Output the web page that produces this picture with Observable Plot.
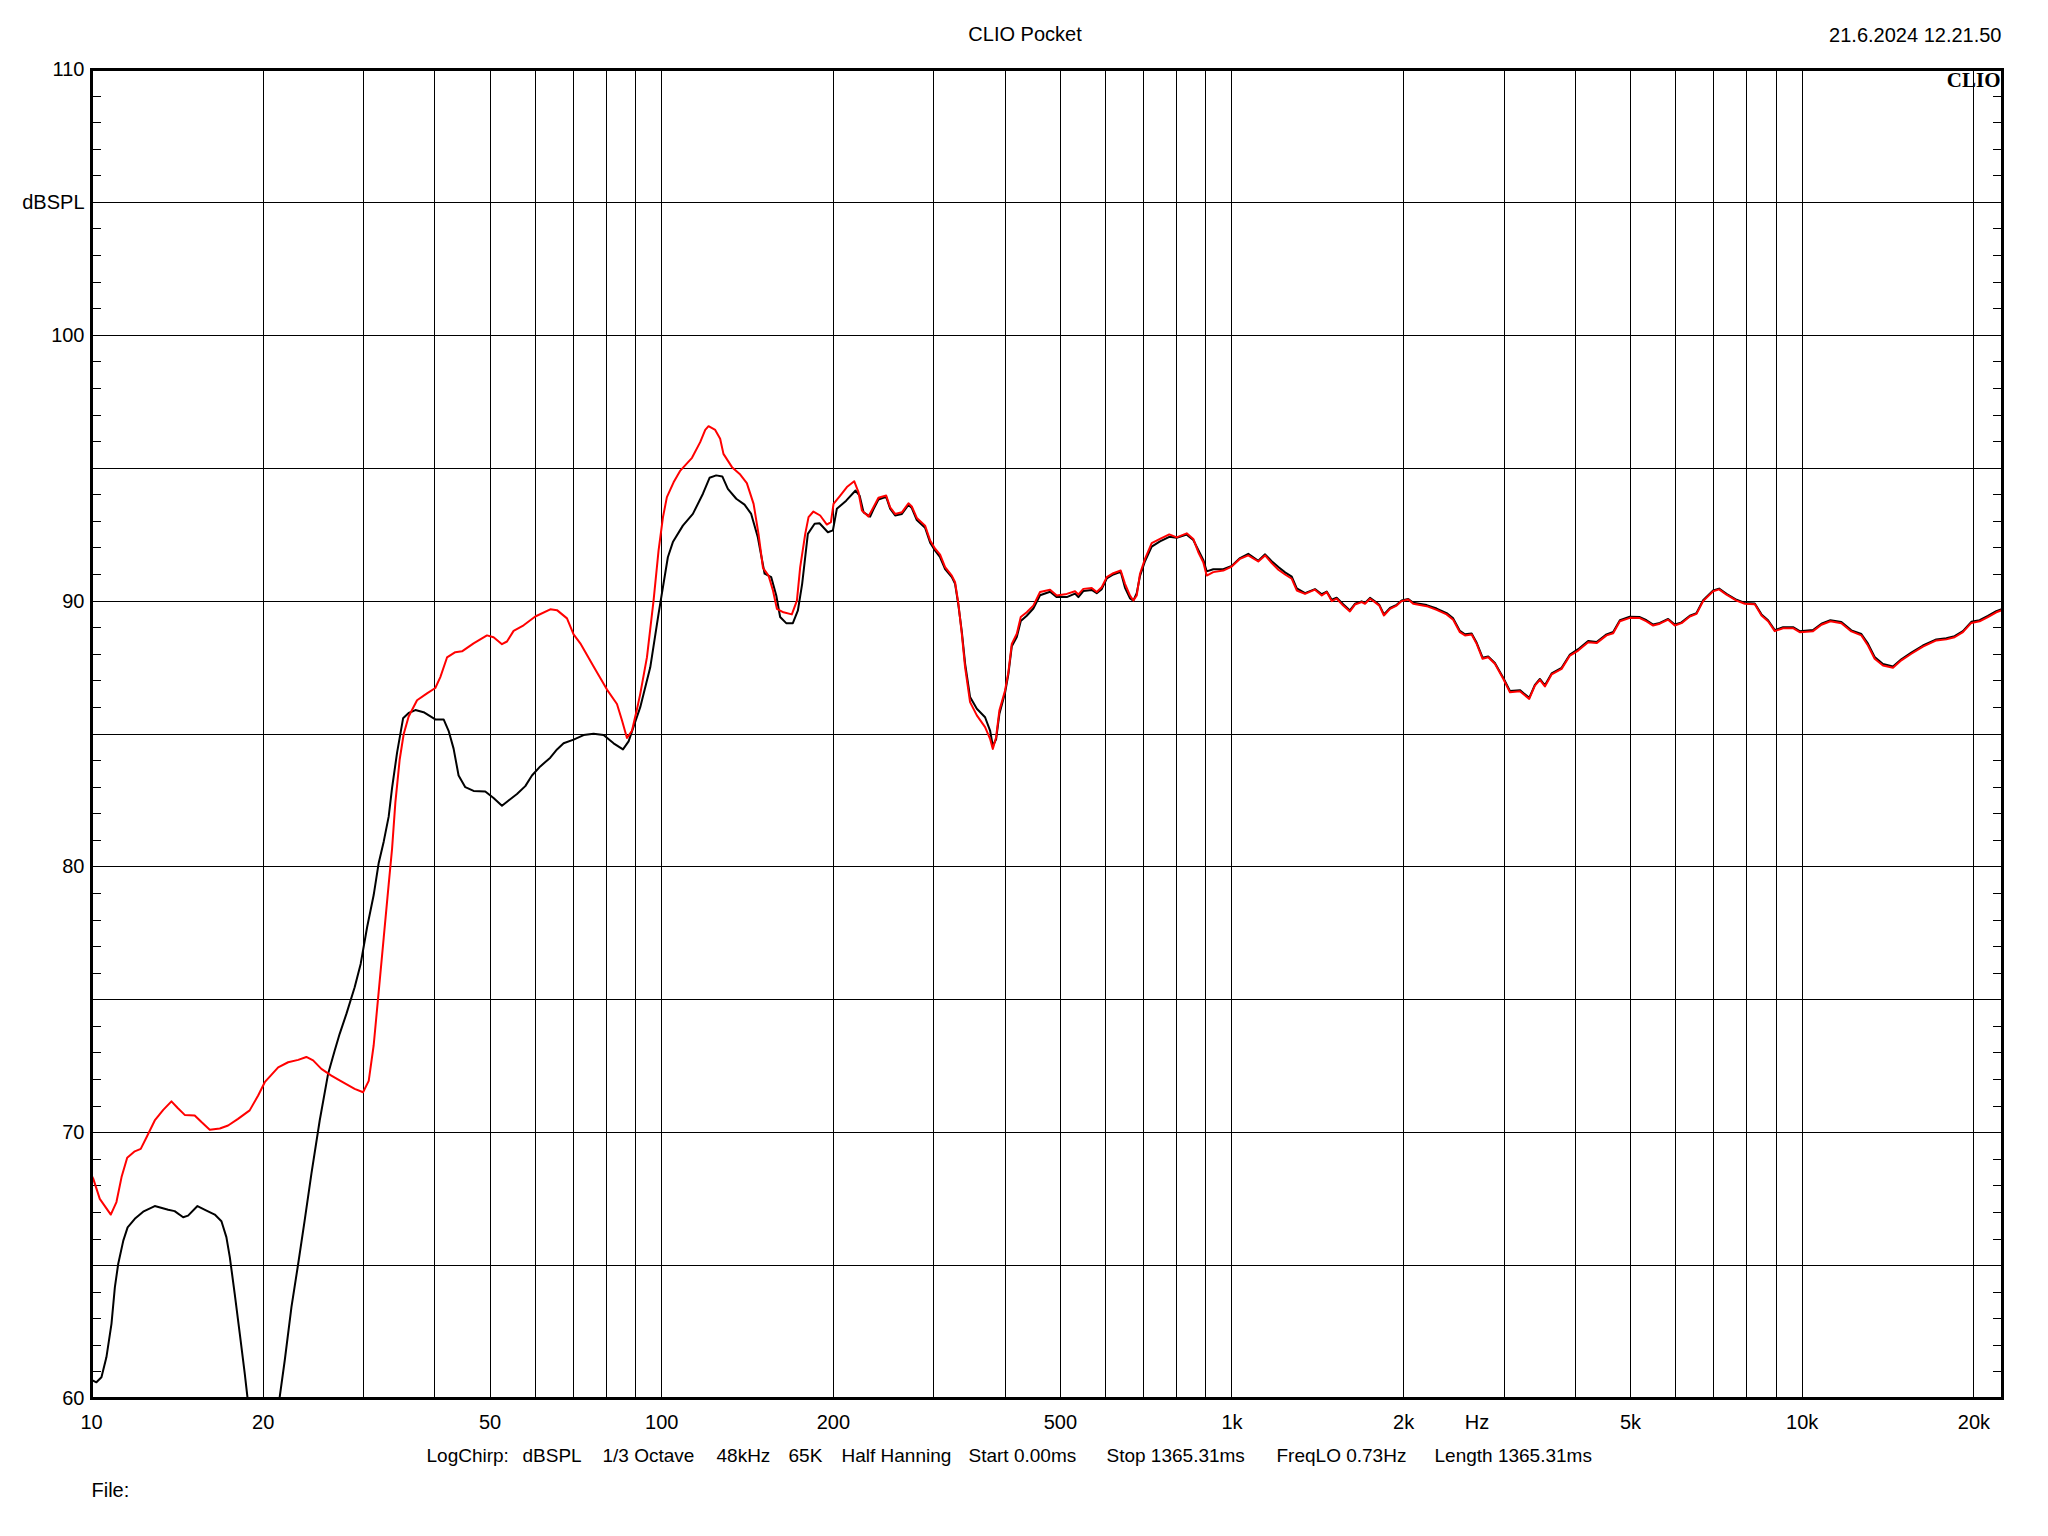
<!DOCTYPE html>
<html>
<head>
<meta charset="utf-8">
<script src="https://cdn.jsdelivr.net/npm/d3@7"></script>
<script src="https://cdn.jsdelivr.net/npm/@observablehq/plot@0.6"></script>
<style>
html, body { margin: 0; padding: 0; background: #ffffff; }
#chart { width: 2048px; height: 1536px; }
</style>
</head>
<body>
<div id="chart"></div>
<script>
// ---- data (frequency in Hz, level in dBSPL) ----
const redResponse = [
  [10.0, 68.4], [10.07, 68.27], [10.34, 67.51], [10.81, 66.92], [11.06, 67.39], [11.29, 68.33], [11.55, 69.06],
  [11.91, 69.30], [12.20, 69.39], [12.49, 69.83], [12.91, 70.46], [13.36, 70.86], [13.81, 71.18], [14.15, 70.94],
  [14.57, 70.67], [15.17, 70.65], [15.59, 70.40], [16.12, 70.11], [16.79, 70.16], [17.36, 70.27], [18.07, 70.52],
  [18.94, 70.84], [19.60, 71.40], [20.13, 71.90], [21.25, 72.46], [22.12, 72.65], [23.04, 72.74], [23.81, 72.85],
  [24.47, 72.72], [25.30, 72.40], [26.34, 72.15], [27.33, 71.95], [28.94, 71.65], [29.94, 71.52], [30.63, 71.95],
  [31.25, 73.29], [31.89, 75.31], [32.54, 77.33], [33.20, 79.34], [33.66, 80.69], [34.11, 82.43], [34.71, 84.04],
  [35.27, 84.99], [35.99, 85.66], [37.23, 86.27], [38.76, 86.53], [40.08, 86.73], [40.90, 87.14], [42.02, 87.88],
  [43.45, 88.08], [44.64, 88.11], [46.78, 88.41], [49.38, 88.71], [50.71, 88.64], [52.46, 88.38], [53.53, 88.48],
  [54.98, 88.88], [57.25, 89.09], [60.01, 89.42], [63.76, 89.69], [65.51, 89.66], [68.21, 89.35], [70.05, 88.75],
  [71.97, 88.41], [75.94, 87.54], [80.16, 86.67], [83.46, 86.13], [85.16, 85.52], [86.90, 84.85], [88.67, 85.12],
  [90.48, 85.93], [91.69, 86.51], [94.21, 87.89], [96.75, 90.02], [98.72, 91.90], [100.5, 93.16], [102.1, 93.91],
  [104.9, 94.47], [107.8, 94.91], [113.0, 95.39], [116.8, 95.98], [119.2, 96.44], [120.8, 96.58], [124.1, 96.44],
  [126.6, 96.11], [128.3, 95.54], [132.8, 95.04], [137.3, 94.76], [141.0, 94.44], [144.9, 93.66], [147.8, 92.53],
  [150.5, 91.25], [153.9, 90.96], [156.7, 90.40], [159.2, 89.71], [163.5, 89.58], [169.1, 89.50], [172.6, 90.02],
  [174.9, 91.28], [178.5, 92.53], [180.9, 93.16], [184.5, 93.37], [189.6, 93.22], [194.8, 92.88], [198.0, 92.97],
  [200.1, 93.66], [205.6, 93.97], [211.2, 94.29], [217.5, 94.51], [221.3, 94.10], [224.4, 93.41], [230.4, 93.18],
  [235.1, 93.53], [239.9, 93.89], [247.5, 93.97], [251.5, 93.53], [256.6, 93.28], [263.7, 93.34], [270.8, 93.68],
  [274.5, 93.56], [280.1, 93.13], [289.6, 92.84], [295.6, 92.28], [301.6, 91.97], [307.7, 91.75], [314.0, 91.28],
  [322.6, 90.96], [326.9, 90.71], [331.3, 89.90], [335.9, 88.77], [340.4, 87.51], [347.3, 86.20], [356.9, 85.70],
  [369.0, 85.26], [376.5, 84.82], [380.7, 84.44], [385.8, 84.88], [390.9, 85.88], [400.0, 86.64], [405.4, 87.33],
  [411.0, 88.39], [419.4, 88.77], [426.2, 89.40], [436.6, 89.58], [448.4, 89.83], [460.7, 90.34], [479.7, 90.43],
  [492.9, 90.21], [513.2, 90.27], [530.6, 90.37], [537.8, 90.25], [548.7, 90.46], [567.6, 90.49], [579.2, 90.34],
  [591.0, 90.52], [603.1, 90.90], [619.3, 91.05], [638.1, 91.15], [649.3, 90.65], [662.5, 90.21], [671.4, 90.02],
  [680.7, 90.21], [689.8, 91.03], [703.8, 91.59], [723.1, 92.18], [747.8, 92.34], [776.4, 92.51], [799.9, 92.40],
  [832.9, 92.55], [855.4, 92.34], [872.8, 91.84], [890.6, 91.46], [902.9, 90.96], [927.2, 91.09], [965.4, 91.15],
  [998.8, 91.30], [1033, 91.59], [1068, 91.72], [1112, 91.49], [1143, 91.72], [1174, 91.43], [1206, 91.18],
  [1239, 91.00], [1273, 90.84], [1299, 90.40], [1343, 90.27], [1398, 90.43], [1437, 90.21], [1466, 90.34],
  [1496, 90.00], [1526, 90.09], [1567, 89.83], [1610, 89.61], [1643, 89.87], [1688, 89.96], [1711, 89.90],
  [1746, 90.09], [1781, 89.96], [1813, 89.83], [1847, 89.46], [1893, 89.71], [1944, 89.83], [1984, 90.00],
  [2038, 90.06], [2079, 89.90], [2195, 89.81], [2285, 89.67], [2379, 89.50], [2443, 89.30], [2510, 88.83],
  [2562, 88.71], [2632, 88.74], [2686, 88.39], [2751, 87.83], [2814, 87.89], [2891, 87.64], [2990, 87.08],
  [3072, 86.57], [3198, 86.61], [3321, 86.32], [3398, 86.82], [3467, 87.04], [3538, 86.79], [3635, 87.24],
  [3785, 87.45], [3914, 87.95], [4047, 88.14], [4213, 88.45], [4359, 88.42], [4538, 88.71], [4661, 88.79],
  [4789, 89.24], [4986, 89.37], [5191, 89.36], [5333, 89.24], [5477, 89.08], [5627, 89.15], [5819, 89.30],
  [5978, 89.08], [6142, 89.17], [6352, 89.42], [6526, 89.52], [6702, 90.00], [6978, 90.37], [7149, 90.44],
  [7366, 90.24], [7669, 90.02], [7930, 89.90], [8257, 89.88], [8483, 89.46], [8712, 89.24], [8951, 88.87],
  [9256, 88.98], [9637, 88.98], [9899, 88.83], [10445, 88.87], [10805, 89.11], [11204, 89.24], [11713, 89.17],
  [12195, 88.86], [12697, 88.71], [13040, 88.33], [13397, 87.83], [13854, 87.58], [14425, 87.49], [14922, 87.77],
  [15537, 88.02], [16281, 88.29], [17185, 88.52], [17893, 88.56], [18503, 88.64], [19133, 88.83], [19793, 89.18],
  [20467, 89.24], [21164, 89.40], [21894, 89.58], [22484, 89.67]
];

const blackResponse = [
  [10.00, 60.70], [10.20, 60.61], [10.41, 60.80], [10.62, 61.55], [10.84, 62.81], [10.99, 64.19], [11.14, 65.07],
  [11.37, 65.94], [11.57, 66.44], [11.91, 66.76], [12.32, 67.03], [12.91, 67.24], [13.63, 67.10], [13.99, 67.05],
  [14.48, 66.82], [14.77, 66.88], [15.34, 67.24], [15.91, 67.07], [16.45, 66.92], [16.90, 66.67], [17.24, 66.07],
  [17.48, 65.32], [17.83, 63.94], [18.20, 62.43], [18.57, 60.93], [18.77, 60.05], [19.23, 58.3], [20.02, 55.5],
  [20.84, 58.0], [21.38, 60.05], [21.82, 61.43], [22.42, 63.44], [23.04, 65.07], [23.65, 66.70], [24.30, 68.45],
  [25.13, 70.46], [26.00, 72.22], [26.70, 73.09], [27.24, 73.72], [27.99, 74.47], [28.94, 75.47], [29.65, 76.35],
  [30.43, 77.73], [31.25, 78.94], [31.89, 80.15], [32.54, 80.95], [33.20, 81.89], [33.66, 82.97], [34.35, 84.31],
  [35.19, 85.59], [35.99, 85.79], [36.98, 85.90], [38.23, 85.82], [40.08, 85.55], [41.45, 85.55], [42.29, 85.12],
  [43.15, 84.45], [44.03, 83.44], [45.24, 83.00], [46.78, 82.86], [49.04, 82.84], [50.71, 82.59], [52.46, 82.30],
  [53.88, 82.50], [55.74, 82.74], [57.64, 83.04], [59.21, 83.44], [61.23, 83.78], [63.76, 84.11], [65.51, 84.42],
  [67.28, 84.65], [70.05, 84.79], [72.94, 84.96], [75.94, 85.01], [79.07, 84.96], [82.33, 84.65], [85.51, 84.42],
  [87.47, 84.72], [89.87, 85.46], [91.69, 86.01], [95.47, 87.51], [98.72, 89.52], [102.5, 91.65], [104.6, 92.22],
  [108.9, 92.84], [113.4, 93.28], [118.1, 94.04], [121.3, 94.64], [124.6, 94.73], [127.7, 94.69], [130.6, 94.22],
  [135.1, 93.85], [139.7, 93.63], [143.5, 93.28], [147.4, 92.40], [151.5, 91.03], [155.6, 90.90], [158.8, 90.21],
  [161.3, 89.40], [165.3, 89.17], [169.8, 89.17], [173.3, 89.65], [176.3, 90.65], [180.4, 92.53], [185.4, 92.91],
  [189.1, 92.93], [195.6, 92.59], [199.6, 92.66], [202.8, 93.47], [210.6, 93.78], [218.7, 94.16], [222.3, 93.97],
  [225.9, 93.34], [232.0, 93.18], [235.1, 93.45], [239.9, 93.82], [247.5, 93.92], [251.5, 93.48], [256.6, 93.22],
  [263.7, 93.28], [270.8, 93.62], [274.5, 93.50], [280.1, 93.05], [289.6, 92.76], [295.6, 92.20], [301.6, 91.90],
  [307.7, 91.65], [314.0, 91.20], [322.6, 90.90], [326.9, 90.65], [331.3, 89.85], [335.9, 88.85], [340.4, 87.65],
  [347.3, 86.39], [356.9, 85.95], [369.0, 85.63], [376.5, 85.13], [380.7, 84.55], [385.8, 84.80], [390.9, 85.75],
  [400.0, 86.55], [405.4, 87.25], [411.0, 88.30], [419.4, 88.65], [426.2, 89.25], [436.6, 89.45], [448.4, 89.72],
  [460.7, 90.22], [479.7, 90.35], [492.9, 90.15], [513.2, 90.15], [530.6, 90.28], [537.8, 90.15], [548.7, 90.38],
  [567.6, 90.42], [579.2, 90.30], [591.0, 90.45], [603.1, 90.85], [619.3, 91.00], [638.1, 91.10], [649.3, 90.50],
  [662.5, 90.10], [671.4, 90.02], [680.7, 90.30], [689.8, 90.95], [703.8, 91.50], [723.1, 92.05], [747.8, 92.25],
  [776.4, 92.42], [799.9, 92.38], [832.9, 92.50], [855.4, 92.30], [872.8, 91.92], [890.6, 91.55], [902.9, 91.12],
  [927.2, 91.20], [965.4, 91.20], [998.8, 91.32], [1033, 91.62], [1068, 91.78], [1112, 91.52], [1143, 91.76],
  [1174, 91.50], [1206, 91.28], [1239, 91.08], [1273, 90.92], [1299, 90.48], [1343, 90.30], [1398, 90.45],
  [1437, 90.26], [1466, 90.36], [1496, 90.05], [1526, 90.13], [1567, 89.88], [1610, 89.65], [1643, 89.90],
  [1688, 89.99], [1711, 89.93], [1746, 90.12], [1781, 89.99], [1813, 89.86], [1847, 89.50], [1893, 89.74],
  [1944, 89.86], [1984, 90.02], [2038, 90.08], [2079, 89.94], [2195, 89.85], [2285, 89.72], [2379, 89.55],
  [2443, 89.35], [2510, 88.88], [2562, 88.75], [2632, 88.78], [2686, 88.43], [2751, 87.87], [2814, 87.92],
  [2891, 87.67], [2990, 87.12], [3072, 86.62], [3198, 86.65], [3321, 86.36], [3398, 86.85], [3467, 87.07],
  [3538, 86.83], [3635, 87.28], [3785, 87.49], [3914, 87.99], [4047, 88.19], [4213, 88.50], [4359, 88.46],
  [4538, 88.75], [4661, 88.84], [4789, 89.28], [4986, 89.41], [5191, 89.40], [5333, 89.28], [5477, 89.12],
  [5627, 89.18], [5819, 89.33], [5978, 89.12], [6142, 89.20], [6352, 89.45], [6526, 89.55], [6702, 90.03],
  [6978, 90.40], [7149, 90.47], [7366, 90.27], [7669, 90.05], [7930, 89.93], [8257, 89.91], [8483, 89.50],
  [8712, 89.28], [8951, 88.91], [9256, 89.02], [9637, 89.02], [9899, 88.87], [10445, 88.91], [10805, 89.15],
  [11204, 89.28], [11713, 89.21], [12195, 88.90], [12697, 88.76], [13040, 88.40], [13397, 87.90], [13854, 87.63],
  [14425, 87.54], [14922, 87.81], [15537, 88.06], [16281, 88.33], [17185, 88.56], [17893, 88.60], [18503, 88.68],
  [19133, 88.87], [19793, 89.22], [20467, 89.28], [21164, 89.44], [21894, 89.62], [22484, 89.71]
];

const freqDomain = [10, 22450];
const dbDomain = [60, 110];
const gridFreqs = [10, 20, 30, 40, 50, 60, 70, 80, 90, 100, 200, 300, 400, 500, 600, 700, 800, 900,
  1000, 2000, 3000, 4000, 5000, 6000, 7000, 8000, 9000, 10000, 20000];
const gridDb = [60, 65, 70, 75, 80, 85, 90, 95, 100, 105, 110];
const minorDb = [60, 61, 62, 63, 64, 65, 66, 67, 68, 69, 70, 71, 72, 73, 74, 75, 76, 77, 78, 79, 80,
  81, 82, 83, 84, 85, 86, 87, 88, 89, 90, 91, 92, 93, 94, 95, 96, 97, 98, 99, 100,
  101, 102, 103, 104, 105, 106, 107, 108, 109, 110];
const xTickValues = [10, 20, 50, 100, 200, 500, 1000, 2000, 2690, 5000, 10000, 20000];
const xTickLabels = ["10", "20", "50", "100", "200", "500", "1k", "2k", "Hz", "5k", "10k", "20k"];
const yTickValues = [60, 70, 80, 90, 100, 105, 110];
const yTickLabels = ["60", "70", "80", "90", "100", "dBSPL", "110"];
const titleText = "CLIO Pocket";
const dateText = "21.6.2024 12.21.50";
const brandText = "CLIO";
const footerItems = ["LogChirp:", "dBSPL", "1/3 Octave", "48kHz", "65K", "Half Hanning",
  "Start 0.00ms", "Stop 1365.31ms", "FreqLO 0.73Hz", "Length 1365.31ms"];
const fileLabel = "File:";

// ---- layout (pixel offsets, kept apart from the data) ----
const footerOffsets = [335, 431, 511, 625, 697, 750, 877, 1015, 1185, 1343];
const sans = "'Liberation Sans', Arial, Helvetica, sans-serif";
const fs = 20;
const footerFs = 19;

const toRows = (arr) => arr.map(([f, db]) => ({f, db}));
const blackData = toRows(blackResponse);
const redData = toRows(redResponse);
const xTickRows = xTickValues.map((v, i) => ({v, label: xTickLabels[i]}));
const yTickRows = yTickValues.map((v, i) => ({v, label: yTickLabels[i]}));

const footerMarks = footerItems.map((t, i) =>
  Plot.text([t], {text: d => d, frameAnchor: "bottom-left", textAnchor: "start", lineAnchor: "middle",
    dx: footerOffsets[i], dy: 57, fontSize: footerFs, fill: "black"}));

const chart = Plot.plot({
  width: 2048,
  height: 1536,
  marginLeft: 91,
  marginRight: 46,
  marginTop: 69,
  marginBottom: 138,
  style: {fontFamily: sans, fontSize: fs + "px", background: "#ffffff", color: "#000000", overflow: "visible"},
  x: {type: "log", domain: freqDomain, axis: null},
  y: {domain: dbDomain, axis: null},
  marks: [
    Plot.ruleX(gridFreqs, {stroke: "black", strokeWidth: 1, shapeRendering: "crispEdges"}),
    Plot.ruleY(gridDb, {stroke: "black", strokeWidth: 1, shapeRendering: "crispEdges"}),
    Plot.axisY({anchor: "left", ticks: minorDb, tickSize: -10, tickFormat: () => "", label: null, stroke: "black", shapeRendering: "crispEdges"}),
    Plot.axisY({anchor: "right", ticks: minorDb, tickSize: -10, tickFormat: () => "", label: null, stroke: "black", shapeRendering: "crispEdges"}),
    // y tick labels (left of frame)
    Plot.text(yTickRows, {y: "v", text: "label", frameAnchor: "left", textAnchor: "end", lineAnchor: "middle",
      dx: -7, fontSize: fs, fill: "black"}),
    // x tick labels (below frame)
    Plot.text(xTickRows, {x: "v", text: "label", frameAnchor: "bottom", textAnchor: "middle", lineAnchor: "middle",
      dy: 24, fontSize: fs, fill: "black"}),
    Plot.line(blackData, {x: "f", y: "db", stroke: "#000000", strokeWidth: 2, clip: true}),
    Plot.line(redData, {x: "f", y: "db", stroke: "#ff0000", strokeWidth: 2, clip: true}),
    Plot.frame({stroke: "black", strokeWidth: 3}),
    Plot.text([titleText], {text: d => d, frameAnchor: "top", dx: -22, dy: -35, lineAnchor: "middle", fontSize: fs, fill: "black"}),
    Plot.text([dateText], {text: d => d, frameAnchor: "top-right", textAnchor: "end", dx: -1, dy: -34, lineAnchor: "middle", fontSize: fs, fill: "black"}),
    Plot.text([brandText], {text: d => d, frameAnchor: "top-right", textAnchor: "end", lineAnchor: "top", dx: -2, dy: 3,
      fontSize: 21, fontWeight: "bold", fontFamily: "'Liberation Serif', 'DejaVu Serif', serif", fill: "black"}),
    ...footerMarks,
    Plot.text([fileLabel], {text: d => d, frameAnchor: "bottom-left", textAnchor: "start", lineAnchor: "middle", dx: 0, dy: 92, fontSize: fs, fill: "black"})
  ]
});

document.getElementById("chart").appendChild(chart);
</script>
</body>
</html>
